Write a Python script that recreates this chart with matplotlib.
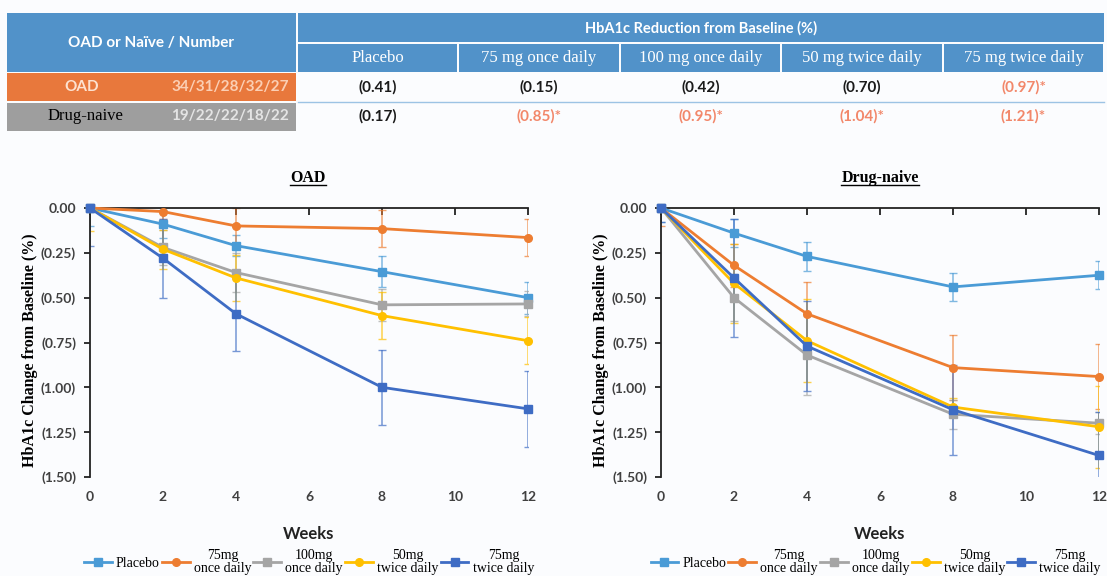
import matplotlib
matplotlib.use("Agg")
import matplotlib.pyplot as plt
from matplotlib.patches import Rectangle
from matplotlib.lines import Line2D
from matplotlib.ticker import FuncFormatter, FixedLocator

# ---------------- data ----------------
table_columns = ["Placebo", "75 mg once daily", "100 mg once daily",
                 "50 mg twice daily", "75 mg twice daily"]
table_groups = ["OAD", "Drug-naive"]
table_numbers = ["34/31/28/32/27", "19/22/22/18/22"]
oad_reduction = ["(0.41)", "(0.15)", "(0.42)", "(0.70)", "(0.97)*"]
oad_significant = [False, False, False, False, True]
naive_reduction = ["(0.17)", "(0.85)*", "(0.95)*", "(1.04)*", "(1.21)*"]
naive_significant = [False, True, True, True, True]

weeks = [0, 2, 4, 8, 12]
series_labels = ["Placebo", "75mg\nonce daily", "100mg\nonce daily",
                 "50mg\ntwice daily", "75mg\ntwice daily"]

oad_placebo = [0, -0.09, -0.21, -0.355, -0.50]
oad_75_once = [0, -0.02, -0.10, -0.115, -0.165]
oad_100_once = [0, -0.22, -0.36, -0.54, -0.535]
oad_50_twice = [0, -0.23, -0.39, -0.60, -0.74]
oad_75_twice = [0, -0.28, -0.59, -1.00, -1.12]
oad_placebo_err = [0.10, 0.08, 0.06, 0.085, 0.09]
oad_75_once_err = [0.0, 0.04, 0.10, 0.105, 0.105]
oad_100_once_err = [0.0, 0.10, 0.11, 0.09, 0.07]
oad_50_twice_err = [0.13, 0.11, 0.13, 0.13, 0.13]
oad_75_twice_err = [0.21, 0.22, 0.21, 0.21, 0.21]

naive_placebo = [0, -0.14, -0.27, -0.44, -0.375]
naive_75_once = [0, -0.32, -0.59, -0.89, -0.94]
naive_100_once = [0, -0.50, -0.82, -1.15, -1.20]
naive_50_twice = [0, -0.42, -0.74, -1.11, -1.22]
naive_75_twice = [0, -0.39, -0.77, -1.125, -1.38]
naive_placebo_err = [0.08, 0.08, 0.08, 0.08, 0.077]
naive_75_once_err = [0.10, 0.12, 0.18, 0.18, 0.18]
naive_100_once_err = [0.0, 0.13, 0.22, 0.08, 0.06]
naive_50_twice_err = [0.0, 0.22, 0.23, 0.05, 0.23]
naive_75_twice_err = [0.08, 0.33, 0.25, 0.25, 0.24]

y_ticks = [0, -0.25, -0.5, -0.75, -1.0, -1.25, -1.5]
x_ticks = [0, 2, 4, 6, 8, 10, 12]

# ---------------- style ----------------
colors = ["#4A9BD6", "#ED7D31", "#A5A5A5", "#FFC000", "#3E6CC4"]
markers = ["s", "o", "s", "o", "s"]
HEAD_BLUE = "#5192C9"
ORANGE = "#E8783C"
GRAY = "#9E9E9E"
SIG = "#F2876A"
SANS = ["Lato", "DejaVu Sans"]
SERIF = ["Liberation Serif", "DejaVu Serif"]

W, H = 1107, 576
fig = plt.figure(figsize=(W / 100, H / 100), dpi=100)
fig.patch.set_facecolor("#fbfcfe")

# ---------------- table (pixel space overlay) ----------------
tab = fig.add_axes([0, 0, 1, 1], zorder=0)
tab.set_xlim(0, W)
tab.set_ylim(H, 0)
tab.axis("off")
tab.patch.set_alpha(0)

def rect(x0, y0, x1, y1, c):
    tab.add_patch(Rectangle((x0, y0), x1 - x0, y1 - y0, facecolor=c,
                            edgecolor="none"))

rect(7, 13, 296, 72, HEAD_BLUE)
tab.text(151, 43, "OAD or Naïve / Number", color="white", fontsize=11,
         fontweight="bold", family=SANS, ha="center", va="center")
rect(298, 13, 1104, 42, HEAD_BLUE)
tab.text(701, 28, "HbA1c Reduction from Baseline (%)", color="white",
         fontsize=10.5, fontweight="bold", family=SANS, ha="center", va="center")
col_edges = [298, 458, 620, 781, 943, 1104]
for i, lab in enumerate(table_columns):
    x0 = col_edges[i] + (0 if i == 0 else 1)
    x1 = col_edges[i + 1] - 1
    rect(x0, 44, x1, 72, HEAD_BLUE)
    tab.text((x0 + x1) / 2, 58, lab, color="white", fontsize=12,
             family=SERIF, ha="center", va="center")

rect(7, 73, 296, 101, ORANGE)
tab.text(82, 87, table_groups[0], color="#fde2d0", fontsize=11,
         fontweight="bold", family=SANS, ha="center", va="center")
tab.text(230, 87, table_numbers[0], color="#fbcfb4", fontsize=11,
         fontweight="bold", family=SANS, ha="center", va="center")
rect(7, 103, 296, 131, GRAY)
tab.text(85, 116, table_groups[1], color="black", fontsize=12,
         family=SERIF, ha="center", va="center")
tab.text(230, 116, table_numbers[1], color="#e4e4e4", fontsize=11,
         fontweight="bold", family=SANS, ha="center", va="center")
tab.plot([298, 1104], [102, 102], color="#9cc3e4", lw=1)

for row_y, vals, sig in [(87, oad_reduction, oad_significant),
                         (116, naive_reduction, naive_significant)]:
    for i, (v, s) in enumerate(zip(vals, sig)):
        xc = (col_edges[i] + col_edges[i + 1]) / 2
        tab.text(xc, row_y, v, color=SIG if s else "#1a1a1a", fontsize=11,
                 fontweight="bold", family=SANS,
                 ha="center", va="center")

# ---------------- line charts ----------------
def fmt(v, pos):
    if abs(v) < 1e-9:
        return "0.00"
    return f"({abs(v):.2f})"

def make_panel(rect_px, title, series, errs, title_x, leg_dx=0.0):
    x0, x1, y0, y1 = rect_px
    ax = fig.add_axes([x0 / W, 1 - y1 / H, (x1 - x0) / W, (y1 - y0) / H],
                      zorder=2)
    ax.patch.set_alpha(0)
    for vals, e, c, m, lab in zip(series, errs, colors, markers, series_labels):
        eb = ax.errorbar(weeks, vals, yerr=e, fmt="none", ecolor=c,
                         elinewidth=1.1, capsize=3, zorder=2)
        for part in eb.lines[1]:
            part.set_alpha(0.7)
        for part in eb.lines[2]:
            part.set_alpha(0.7)
        ax.plot(weeks, vals, color=c, lw=2, marker=m, ms=5.5, label=lab,
                clip_on=False, zorder=3)
    ax.set_xlim(0, 12)
    ax.set_ylim(-1.5, 0)
    ax.xaxis.set_major_locator(FixedLocator(x_ticks))
    ax.yaxis.set_major_locator(FixedLocator(y_ticks))
    ax.yaxis.set_major_formatter(FuncFormatter(fmt))
    for s in ["right", "bottom"]:
        ax.spines[s].set_visible(False)
    ax.spines["top"].set_color("#222222")
    ax.spines["left"].set_color("#222222")
    ax.spines["top"].set_linewidth(1.3)
    ax.spines["left"].set_linewidth(1.3)
    ax.tick_params(axis="x", top=True, bottom=False, labeltop=False,
                   labelbottom=True, direction="in", length=5, width=1.3,
                   color="#222222", pad=10)
    ax.tick_params(axis="y", direction="out", length=4, width=1.3,
                   color="#222222", pad=6)
    for t in ax.get_xticklabels() + ax.get_yticklabels():
        t.set_fontfamily(SANS)
        t.set_fontweight("bold")
        t.set_fontsize(10)
        t.set_color("#404040")
    ax.set_ylabel("HbA1c Change from Baseline (%)", family=SERIF,
                  fontweight="bold", fontsize=11.5, color="black")
    ax.yaxis.set_label_coords(-52 / (x1 - x0), 0.47)
    ax.text(0.5, -57 / (y1 - y0), "Weeks", transform=ax.transAxes,
            ha="center", va="center", family=SANS, fontweight="bold",
            fontsize=12, color="#222222")
    t = fig.text(title_x / W, 1 - 178 / H, title, family=SERIF,
                 fontweight="bold", fontsize=11.5, ha="center", va="center")
    leg = ax.legend(loc="center",
                    bbox_to_anchor=(0.5 + leg_dx, -85 / (y1 - y0)),
                    ncol=5, frameon=False,
                    prop={"family": SERIF, "size": 10},
                    handlelength=2.0, handletextpad=0.3, columnspacing=0.15,
                    labelspacing=0.0, borderaxespad=0, borderpad=0)
    for txt in leg.get_texts():
        txt.set_multialignment("center")
        txt.set_linespacing(0.95)
    return ax, t

series_oad = [oad_placebo, oad_75_once, oad_100_once, oad_50_twice, oad_75_twice]
errs_oad = [oad_placebo_err, oad_75_once_err, oad_100_once_err,
            oad_50_twice_err, oad_75_twice_err]
series_naive = [naive_placebo, naive_75_once, naive_100_once, naive_50_twice,
                naive_75_twice]
errs_naive = [naive_placebo_err, naive_75_once_err, naive_100_once_err,
              naive_50_twice_err, naive_75_twice_err]

ax1, t1 = make_panel((90, 528, 208, 477), "OAD", series_oad, errs_oad, 308)
ax2, t2 = make_panel((661, 1099, 208, 477), "Drug-naive", series_naive,
                     errs_naive, 880, leg_dx=-0.01)

# underline titles
fig.canvas.draw()
r = fig.canvas.get_renderer()
for t in (t1, t2):
    bb = t.get_window_extent(r)
    yline = bb.y0 + 1
    fig.add_artist(Line2D([bb.x0 / W, bb.x1 / W], [yline / H, yline / H],
                          color="black", lw=1, transform=fig.transFigure))

fig.savefig("out.png", dpi=100, facecolor=fig.get_facecolor())
